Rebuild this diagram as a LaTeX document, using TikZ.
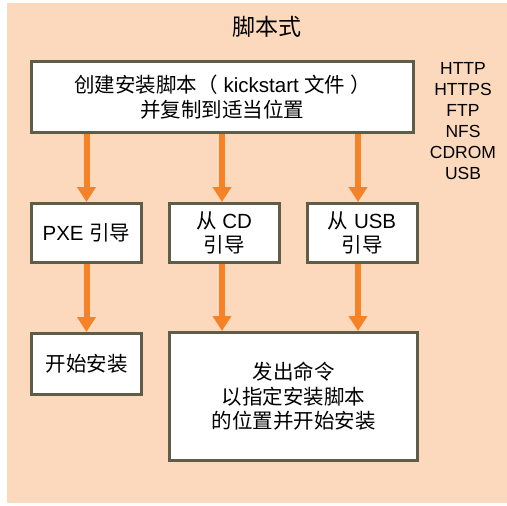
\documentclass[tikz,border=0pt]{standalone}
\usepackage{fontspec}
\setmainfont{Liberation Sans}
\newfontfamily\cjk{Noto Sans CJK SC}
\usepackage{tikz}
\usetikzlibrary{arrows.meta,positioning}
\definecolor{peach}{HTML}{FCD9BC}
\definecolor{boxline}{HTML}{5E5E48}
\definecolor{flowor}{HTML}{F58226}
\newcommand\zh[1]{{\cjk #1}}

\begin{document}
\begin{tikzpicture}[x=1pt,y=-1pt,
    stepbox/.style={draw=boxline,line width=3pt,fill=white,align=center,
        inner sep=0pt,font=\fontsize{20.5}{24.5}\selectfont},
    flow/.style={draw=flowor,line width=6pt,-{Triangle[width=18pt,length=15pt]}}]
    \useasboundingbox (0,0) rectangle (507,506);
    \fill[peach] (7,3) rectangle (507,503);
    \node[font=\fontsize{23}{26}\selectfont] (title) at (267,27) {\zh{脚本式}};
    \node[stepbox,minimum width=382pt,minimum height=71pt] (make) at (222.5,97)
        {\zh{创建安装脚本（} kickstart \zh{文件 ）}\\\zh{并复制到适当位置}};
    \node[align=center,font=\fontsize{17.5}{21}\selectfont] (proto) at (463,121)
        {HTTP\\HTTPS\\FTP\\NFS\\CDROM\\USB};
    \node[stepbox,minimum width=110pt,minimum height=59pt] (pxe) at (86.5,233)
        {PXE \zh{引导}};
    \node[stepbox,minimum width=110pt,minimum height=59pt] (cd) at (224,233)
        {\zh{从} CD\\\zh{引导}};
    \node[stepbox,minimum width=110pt,minimum height=59pt] (usb) at (362,233)
        {\zh{从} USB\\\zh{引导}};
    \node[stepbox,minimum width=110pt,minimum height=61pt] (start) at (86.5,364)
        {\zh{开始安装}};
    \node[stepbox,minimum width=248pt,minimum height=128pt] (cmd) at (293.5,396.5)
        {\zh{发出命令}\\\zh{以指定安装脚本}\\\zh{的位置并开始安装}};
    \draw[flow] (make.south -| pxe) -- (pxe.north);
    \draw[flow] ([xshift=-2pt]make.south -| cd) -- ([xshift=-2pt]cd.north);
    \draw[flow] ([xshift=-4pt]make.south -| usb) -- ([xshift=-4pt]usb.north);
    \draw[flow] (pxe.south) -- (start.north);
    \draw[flow] ([xshift=-2pt]cd.south) -- ([xshift=-2pt]cd.south |- cmd.north);
    \draw[flow] ([xshift=-4pt]usb.south) -- ([xshift=-4pt]usb.south |- cmd.north);
\end{tikzpicture}
\end{document}
